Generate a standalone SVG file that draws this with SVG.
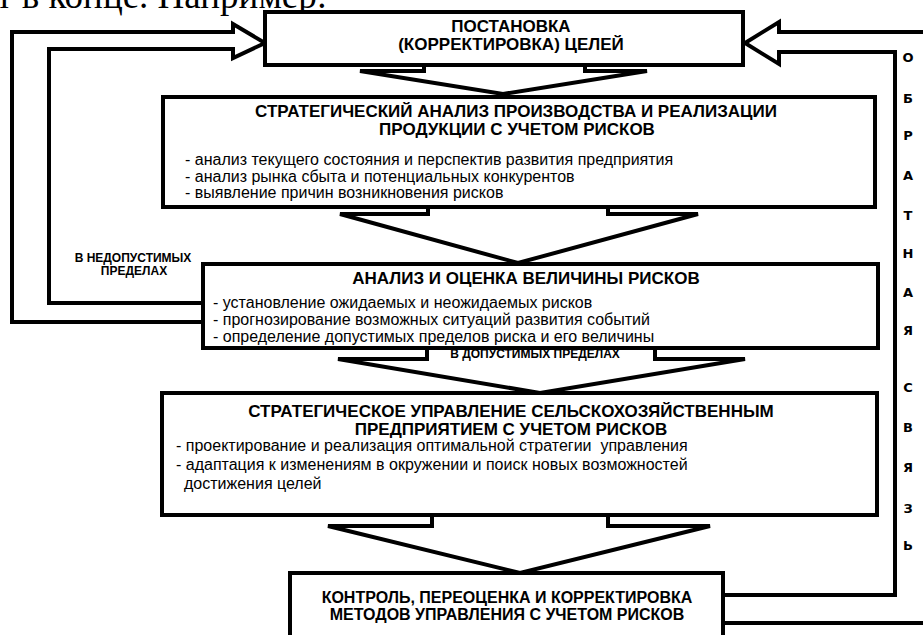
<svg xmlns="http://www.w3.org/2000/svg" width="923" height="635" viewBox="0 0 923 635">
<style>
.box{fill:#fff;stroke:#000;stroke-width:4}
.arr{fill:#fff;stroke:#000;stroke-width:4;stroke-linejoin:miter}
.ln{fill:none;stroke:#000;stroke-width:4;stroke-linejoin:miter}
.t{font-family:"Liberation Sans",Arial,sans-serif;font-weight:bold;font-size:17px;text-anchor:middle;fill:#000}
.t5{font-family:"Liberation Sans",Arial,sans-serif;font-weight:bold;font-size:16px;text-anchor:middle;fill:#000}
.b{font-family:"Liberation Sans",Arial,sans-serif;font-size:16px;fill:#000}
.s{font-family:"Liberation Sans",Arial,sans-serif;font-weight:bold;font-size:12px;text-anchor:middle;fill:#000}
.v{font-family:"DejaVu Sans",Verdana,sans-serif;font-weight:bold;font-size:13px;text-anchor:middle;fill:#000}
</style>
<rect width="923" height="635" fill="#fff"/>
<text x="327" y="8" font-family="Liberation Serif,Times New Roman,serif" font-size="37" text-anchor="end">т в конце. Например:</text>

<g id="connectors">
  <polygon class="arr" points="424,40 424,71 360,71 503,94 647,71 585,71 585,40"/>
  <polygon class="arr" points="428,190 428,214 340,214 518,263 698,214 608,214 608,190"/>
  <polygon class="arr" points="427,330 427,359 338,359 540,393 745,359 655,359 655,330"/>
  <polygon class="arr" points="432,500 432,526 328,526 520,573 710,526 608,526 608,500"/>
  <polyline class="ln" points="203,322 12,322 12,32 233,32 233,24 265,43 233,58 233,49 49,49 49,303 203,303"/>
  <polyline class="ln" points="930,32 779,32 779,22 745,43 779,64 779,52 895,52 895,595 723,595"/>
  <line class="ln" x1="723" y1="623" x2="930" y2="623"/>
</g>

<g id="n1">
  <rect class="box" x="265" y="12" width="478" height="53"/>
  <text class="t" x="511" y="32">ПОСТАНОВКА</text>
  <text class="t" x="511" y="50">(КОРРЕКТИРОВКА) ЦЕЛЕЙ</text>
</g>
<g id="n2">
  <rect class="box" x="163" y="97" width="712" height="110"/>
  <text class="t" x="516" y="117">СТРАТЕГИЧЕСКИЙ АНАЛИЗ ПРОИЗВОДСТВА И РЕАЛИЗАЦИИ</text>
  <text class="t" x="517" y="135">ПРОДУКЦИИ С УЧЕТОМ РИСКОВ</text>
  <text class="b" x="185" y="165">- анализ текущего состояния и перспектив развития предприятия</text>
  <text class="b" x="185" y="182">- анализ рынка сбыта и потенциальных конкурентов</text>
  <text class="b" x="185" y="198">- выявление причин возникновения рисков</text>
</g>
<g id="n3">
  <rect class="box" x="203" y="264" width="675" height="84"/>
  <text class="t" x="526" y="284">АНАЛИЗ И ОЦЕНКА ВЕЛИЧИНЫ РИСКОВ</text>
  <text class="b" x="213" y="308">- установление ожидаемых и неожидаемых рисков</text>
  <text class="b" x="213" y="325">- прогнозирование возможных ситуаций развития событий</text>
  <text class="b" x="213" y="342">- определение допустимых пределов риска и его величины</text>
</g>
<g id="n4">
  <rect class="box" x="162" y="393" width="715" height="122"/>
  <text class="t" x="511" y="417">СТРАТЕГИЧЕСКОЕ УПРАВЛЕНИЕ СЕЛЬСКОХОЗЯЙСТВЕННЫМ</text>
  <text class="t" x="511" y="435">ПРЕДПРИЯТИЕМ С УЧЕТОМ РИСКОВ</text>
  <text class="b" x="176" y="451" xml:space="preserve">- проектирование и реализация оптимальной стратегии  управления</text>
  <text class="b" x="176" y="470">- адаптация к изменениям в окружении и поиск новых возможностей</text>
  <text class="b" x="184" y="489">достижения целей</text>
</g>
<g id="n5">
  <rect class="box" x="290" y="573" width="433" height="80"/>
  <text class="t5" x="507" y="603">КОНТРОЛЬ, ПЕРЕОЦЕНКА И КОРРЕКТИРОВКА</text>
  <text class="t5" x="507" y="620">МЕТОДОВ УПРАВЛЕНИЯ С УЧЕТОМ РИСКОВ</text>
</g>

<g id="labels">
  <text class="s" x="133" y="262">В НЕДОПУСТИМЫХ</text>
  <text class="s" x="134" y="275">ПРЕДЕЛАХ</text>
  <text class="s" x="535" y="358">В ДОПУСТИМЫХ ПРЕДЕЛАХ</text>
</g>
<g id="feedback-label">
  <text class="v" x="908" y="62">О</text>
  <text class="v" x="908" y="103">Б</text>
  <text class="v" x="908" y="140">Р</text>
  <text class="v" x="908" y="180">А</text>
  <text class="v" x="908" y="220">Т</text>
  <text class="v" x="908" y="258">Н</text>
  <text class="v" x="908" y="297">А</text>
  <text class="v" x="908" y="335">Я</text>
  <text class="v" x="908" y="392">С</text>
  <text class="v" x="908" y="432">В</text>
  <text class="v" x="908" y="472">Я</text>
  <text class="v" x="908" y="513">З</text>
  <text class="v" x="908" y="550">Ь</text>
</g>
</svg>
